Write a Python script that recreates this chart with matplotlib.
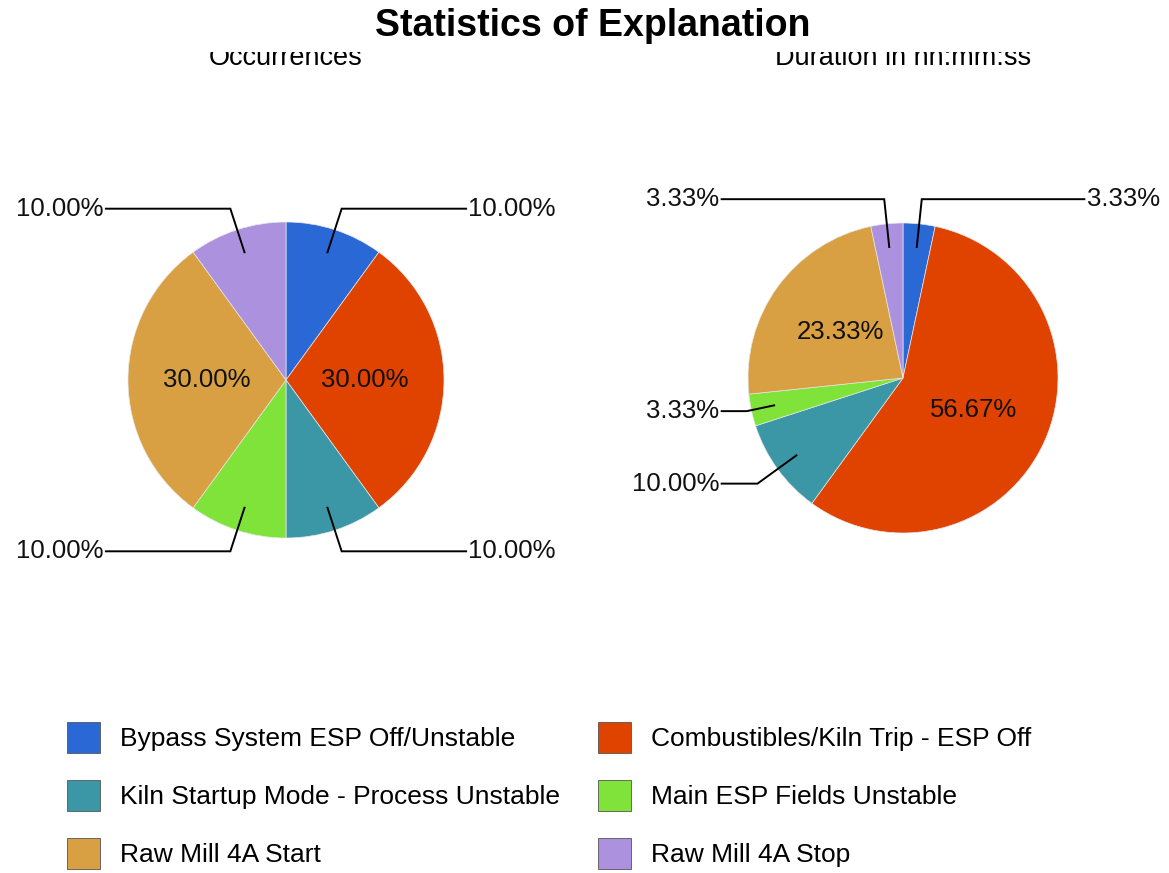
import numpy as np
import matplotlib
matplotlib.use('Agg')
import matplotlib.pyplot as plt
from matplotlib.patches import Rectangle

categories = ["Bypass System ESP Off/Unstable", "Combustibles/Kiln Trip - ESP Off",
              "Kiln Startup Mode - Process Unstable", "Main ESP Fields Unstable",
              "Raw Mill 4A Start", "Raw Mill 4A Stop"]
occurrences = [10.0, 30.0, 10.0, 10.0, 30.0, 10.0]
duration = [3.33, 56.67, 10.0, 3.33, 23.33, 3.33]
colors = ["#2A68D6", "#E04200", "#3B97A6", "#80E33A", "#D8A042", "#AC92DE"]

plt.rcParams['font.family'] = ['Liberation Sans', 'DejaVu Sans']

W, H = 1169, 873
fig = plt.figure(figsize=(W / 100, H / 100), dpi=100)
FS = 18.5


def add_pie(cx, cy, r, values, elbow_r, line_x, subtitle):
    half = 210
    ax = fig.add_axes([(cx - half) / W, (H - cy - half) / H, 2 * half / W, 2 * half / H])
    L = half / r
    wedges, _ = ax.pie(values, colors=colors, startangle=90, counterclock=False, radius=1,
                       wedgeprops=dict(edgecolor='#e6e6e6', linewidth=0.5))
    ax.set_xlim(-L, L)
    ax.set_ylim(-L, L)
    ax.set_aspect('equal')
    ax.axis('off')
    for w, v in zip(wedges, values):
        theta = np.deg2rad((w.theta1 + w.theta2) / 2)
        c, s = np.cos(theta), np.sin(theta)
        txt = f"{v:.2f}%"
        if v >= 20:
            ax.text(0.5 * c, 0.5 * s, txt, ha='center', va='center', fontsize=FS, color='#111111')
        else:
            er = elbow_r if abs(s) > 0.5 else 1.03
            x0, y0 = 0.85 * c, 0.85 * s
            x1, y1 = er * c, er * s
            side = 1 if c > 0 else -1
            x2 = side * line_x
            ax.plot([x0, x1, x2], [y0, y1, y1], color='black', lw=1.4, clip_on=False,
                    solid_joinstyle='miter')
            ax.text(x2 + side * 0.015, y1, txt, ha='left' if side > 0 else 'right',
                    va='center', fontsize=FS, color='#111111', clip_on=False)
    fig.text(cx / W, 1 - 65 / H, subtitle, ha='center', va='baseline', fontsize=19.5, zorder=3)
    return wedges


w_left = add_pie(286, 380, 158, occurrences, 1.14, 1.14, "Occurrences")
w_right = add_pie(903, 378, 155, duration, 1.16, 1.17, "Duration in hh:mm:ss")

# top strip hides upper part of the subtitles
fig.patches.append(Rectangle((0, 1 - 52 / H), 1, 52 / H, transform=fig.transFigure,
                             facecolor='white', edgecolor='none', zorder=4))
fig.text(0.5 + 8 / W, 1 - 36 / H, "Statistics of Explanation", ha='center', va='baseline',
         fontsize=27, fontweight='bold', zorder=5)

cols = [[0, 2, 4], [1, 3, 5]]
xs = [67, 598]
for col, x in zip(cols, xs):
    handles = []
    for i in col:
        p = Rectangle((0, 0), 1, 1, facecolor=colors[i], edgecolor='#555555', linewidth=0.6)
        handles.append(p)
    fig.legend(handles, [categories[i] for i in col], loc='upper left',
               bbox_to_anchor=(x / W, 1 - 722 / H), frameon=False, fontsize=19,
               handlelength=1.25, handleheight=1.43, handletextpad=0.76,
               labelspacing=1.02, borderpad=0, borderaxespad=0)

fig.savefig('out.png', dpi=100, facecolor='white')
